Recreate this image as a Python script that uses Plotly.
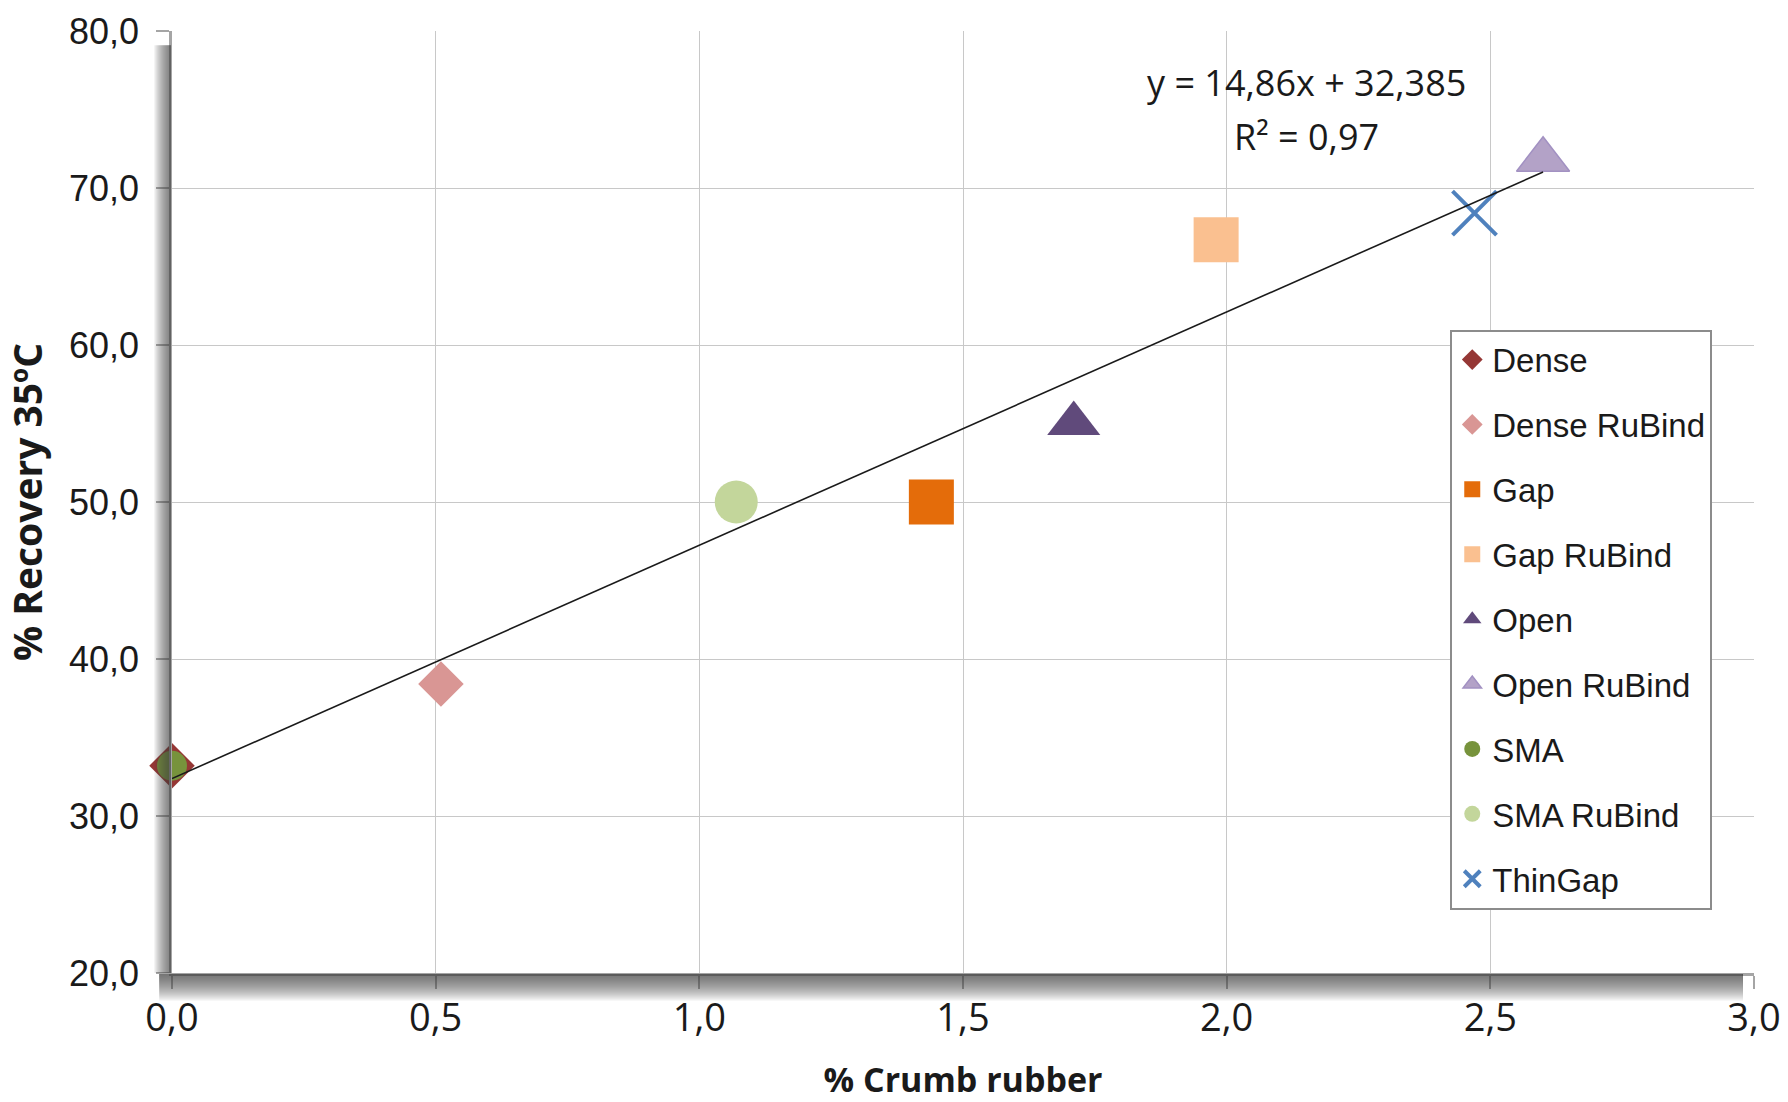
import plotly.graph_objects as go

# Mixture types and their measured values
series = ["Dense", "Dense RuBind", "Gap", "Gap RuBind", "Open",
          "Open RuBind", "SMA", "SMA RuBind", "ThinGap"]
crumb_rubber = [0.0, 0.51, 1.44, 1.98, 1.71, 2.60, 0.0, 1.07, 2.47]
recovery = [33.2, 38.4, 50.0, 66.7, 55.0, 71.8, 33.2, 50.0, 68.4]

# Marker styling per series
colors = ["#953735", "#D99694", "#E46C0A", "#FAC090", "#604A7B",
          "#B3A2C7", "#77933C", "#C3D69B", "#4F81BD"]
symbols = ["diamond", "diamond", "square", "square", "triangle-up",
           "triangle-up", "circle", "circle", "x-thin"]
sizes = [35, 35, 45, 45, 46, 46, 30, 43, 44]

# Linear trendline coefficients
slope = 14.86
intercept = 32.385
r_squared = 0.97

x_ticks = [0.0, 0.5, 1.0, 1.5, 2.0, 2.5, 3.0]
y_ticks = [20.0, 30.0, 40.0, 50.0, 60.0, 70.0, 80.0]


def comma(v, nd):
    return f"{v:.{nd}f}".replace(".", ",")


fig = go.Figure()

for name, xv, yv, col, sym, sz in zip(series, crumb_rubber, recovery,
                                      colors, symbols, sizes):
    marker = dict(color=col, symbol=sym, size=sz)
    if sym == "x-thin":
        marker["line"] = dict(color=col, width=4)
    elif name == "Open RuBind":
        marker["line"] = dict(color="#A291C2", width=1.5)
    else:
        marker["line"] = dict(width=0)
    fig.add_trace(go.Scatter(x=[xv], y=[yv], mode="markers", name=name,
                             legendgroup=name, marker=marker,
                             cliponaxis=False, hoverinfo="x+y+name"))

# Trendline over the full span of the data
x_fit = [0.0, max(crumb_rubber)]
y_fit = [slope * v + intercept for v in x_fit]
fig.add_trace(go.Scatter(x=x_fit, y=y_fit, mode="lines", showlegend=False,
                         line=dict(color="#1a1a1a", width=1.6),
                         cliponaxis=False, hoverinfo="skip"))

eq_font = dict(family="Open Sans, Lato, sans-serif", size=36, color="#1a1a1a")
fig.add_annotation(x=2.152, y=76.7, xref="x", yref="y", showarrow=False,
                   text=f"y = {comma(slope, 2)}x + {comma(intercept, 3)}",
                   font=eq_font)
fig.add_annotation(x=2.152, y=73.3, xref="x", yref="y", showarrow=False,
                   text=f"R² = {comma(r_squared, 2)}", font=eq_font)

# Soft drop shadows along the two axis lines (stacked translucent strips)
shapes = []
for k in range(1, 18):
    shapes.append(dict(type="rect", xref="paper", yref="paper",
                       xsizemode="pixel", xanchor=0, x0=-1, x1=-1 - k,
                       y0=0, y1=0.985, line=dict(width=0),
                       fillcolor="rgba(70,70,70,0.06)", layer="above"))
for k in range(1, 28):
    shapes.append(dict(type="rect", xref="paper", yref="paper",
                       ysizemode="pixel", yanchor=0, y0=-1, y1=-1 - k,
                       x0=-0.008, x1=0.993, line=dict(width=0),
                       fillcolor="rgba(70,70,70,0.042)", layer="above"))

axis_common = dict(showgrid=True, gridcolor="#C8C8C8", gridwidth=1.3,
                   showline=True, linecolor="#A5A5A5", linewidth=2.5,
                   ticks="outside", ticklen=13, tickcolor="#A5A5A5",
                   tickwidth=1.5, zeroline=False, automargin=False)

fig.update_layout(
    width=1788, height=1102,
    margin=dict(l=172, r=34, t=31, b=129),
    paper_bgcolor="white", plot_bgcolor="white",
    shapes=shapes,
    xaxis=dict(range=[0, 3], tickvals=x_ticks,
               ticktext=[comma(v, 1) for v in x_ticks],
               tickfont=dict(family="Liberation Sans Narrow, Open Sans, sans-serif",
                             size=38, color="#1a1a1a"),
               ticklabelstandoff=-3,
               title=dict(text="% Crumb rubber", standoff=45,
                          font=dict(family="Open Sans, sans-serif", size=34,
                                    color="#1a1a1a", weight="bold")),
               **axis_common),
    yaxis=dict(range=[20, 80], tickvals=y_ticks,
               ticktext=[comma(v, 1) for v in y_ticks],
               tickfont=dict(family="Liberation Sans, Arial, sans-serif",
                             size=36, color="#1a1a1a"),
               ticklabelstandoff=10,
               title=dict(text="% Recovery 35ºC", standoff=16,
                          font=dict(family="Open Sans, sans-serif", size=39,
                                    color="#1a1a1a", weight="bold")),
               **axis_common),
    legend=dict(x=0.808, y=0.683, xanchor="left", yanchor="top",
                bgcolor="white", bordercolor="#8C8C8C", borderwidth=2,
                tracegroupgap=19,
                font=dict(family="Liberation Sans, Arial, sans-serif",
                          size=33, color="#1a1a1a")),
    showlegend=True,
)

fig.write_html("out.html")
